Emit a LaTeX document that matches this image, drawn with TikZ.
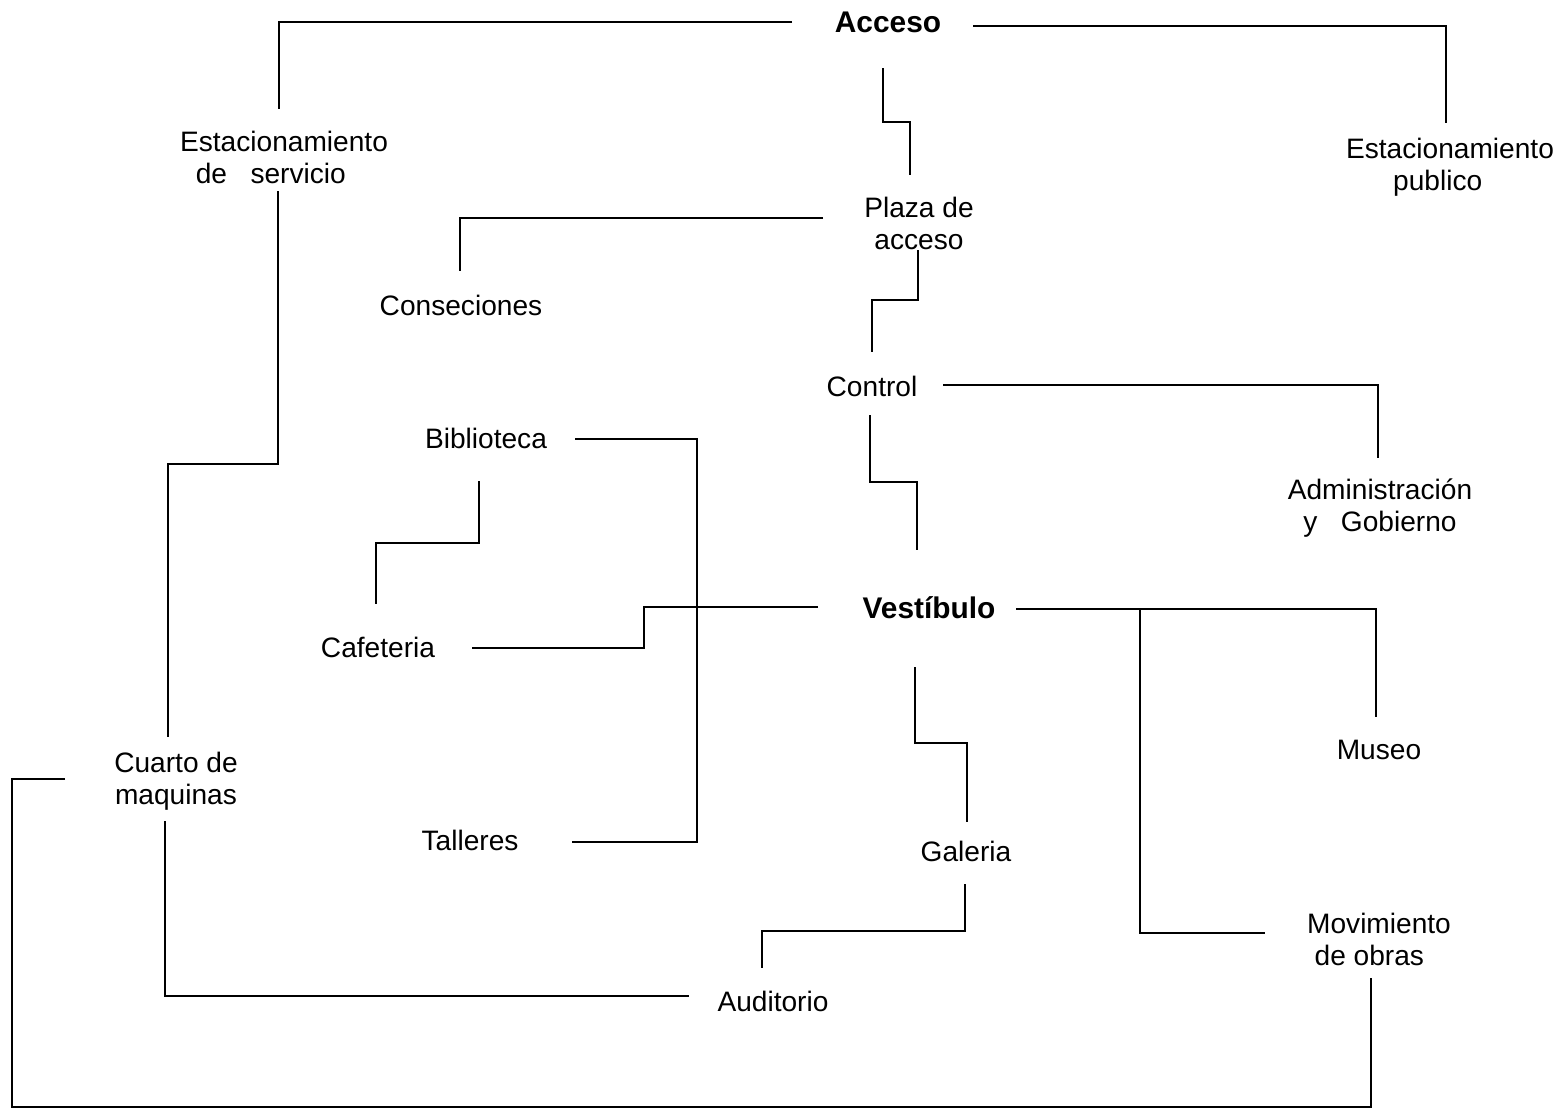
\documentclass[tikz,border=0pt]{standalone}
\usepackage{fontspec}
\setmainfont{Liberation Sans}
\usetikzlibrary{
    calc
}
\tikzset {
    place/.style = {inner sep = 0pt, align = center, font = \fontsize{16}{18.2}\selectfont},
    hub/.style = {place, font = \fontsize{17}{20}\selectfont\bfseries},
    link/.style = {line width = 1pt}
}

\begin{document}
\begin{tikzpicture}[x = 0.02cm, y = -0.02cm]
            \useasboundingbox (0, 0) rectangle (1568, 1112);
            % zonas
            \node (acceso) [hub] at (888, 22) {Acceso};
            \node (estserv) [place] at (284, 157) {Estacionamiento\\de \ \ servicio\hspace*{15pt}};
            \node (estpub) [place] at (1450, 167) {Estacionamiento\\publico\hspace*{14pt}};
            \node (plaza) [place] at (919, 223) {Plaza de\\acceso};
            \node (consec) [place] at (461, 305) {Conseciones};
            \node (control) [place] at (872, 386) {Control};
            \node (admin) [place] at (1380, 508) {Administración\\y \ \ Gobierno};
            \node (biblio) [place] at (486, 438) {Biblioteca};
            \node (cafe) [place] at (378, 647) {Cafeteria};
            \node (vest) [hub] at (929, 608) {Vestíbulo};
            \node (museo) [place] at (1379, 750) {Museo};
            \node (cuarto) [place] at (176, 781) {Cuarto de\\maquinas};
            \node (talleres) [place] at (470, 840) {Talleres};
            \node (galeria) [place] at (966, 851) {Galeria};
            \node (movim) [place] at (1379, 939) {Movimiento\\de obras\hspace*{11pt}};
            \node (audit) [place] at (773, 1001) {Auditorio};
            % relaciones
            \draw [link] ($(acceso) + (-96, 0)$) -| ($(estserv) + (-5, -48)$);
            \draw [link] ($(acceso) + (85, 4)$) -| ($(estpub) + (-4, -44)$);
            \draw [link] ($(acceso) + (-5, 46)$) |- ($(plaza) + (-9, -101)$) -- ($(plaza) + (-9, -48)$);
            \draw [link] ($(plaza) + (-96, -5)$) -| ($(consec) + (-1, -34)$);
            \draw [link] ($(plaza) + (-1, 27)$) |- ($(control) + (0, -86)$) -- ($(control) + (0, -34)$);
            \draw [link] ($(control) + (71, -1)$) -| ($(admin) + (-2, -50)$);
            \draw [link] ($(control) + (-2, 29)$) |- ($(vest) + (-12, -126)$) -- ($(vest) + (-12, -58)$);
            \draw [link] ($(vest) + (-111, -1)$) -| ($(cafe) + (266, 1)$) -- ($(cafe) + (94, 1)$);
            \draw [link] ($(vest) + (87, 1)$) -| ($(museo) + (-3, -33)$);
            \draw [link] ($(vest) + (211, 1)$) |- ($(movim) + (-114, -6)$);
            \draw [link] ($(vest) + (-14, 59)$) |- ($(galeria) + (1, -108)$) -- ($(galeria) + (1, -29)$);
            \draw [link] ($(galeria) + (-1, 33)$) |- ($(audit) + (-11, -70)$) -- ($(audit) + (-11, -33)$);
            \draw [link] ($(biblio) + (89, 1)$) -| ($(talleres) + (227, 2)$) -- ($(talleres) + (102, 2)$);
            \draw [link] ($(biblio) + (-7, 43)$) |- ($(cafe) + (-2, -104)$) -- ($(cafe) + (-2, -43)$);
            \draw [link] ($(estserv) + (-6, 34)$) |- ($(cuarto) + (-8, -317)$) -- ($(cuarto) + (-8, -44)$);
            \draw [link] ($(cuarto) + (-11, 40)$) |- ($(audit) + (-84, -5)$);
            \draw [link] ($(cuarto) + (-111, -2)$) -- ($(cuarto) + (-164, -2)$) |- ($(movim) + (-8, 168)$) -- ($(movim) + (-8, 39)$);
        \end{tikzpicture}
\end{document}
